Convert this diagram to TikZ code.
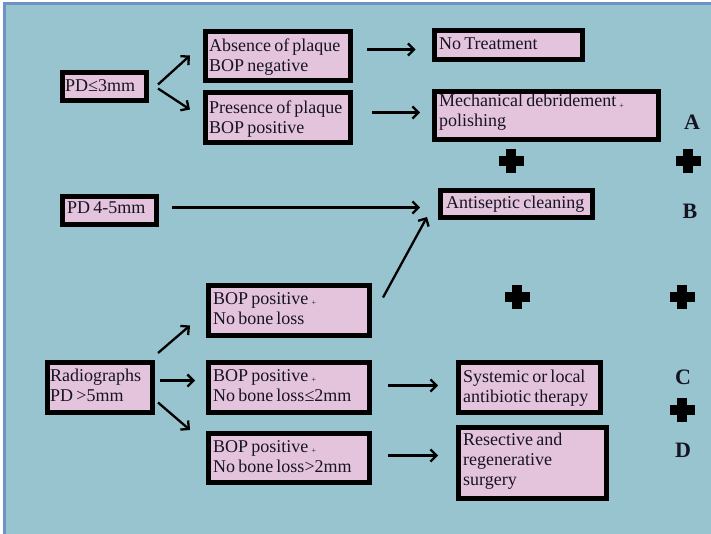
\documentclass[tikz,border=0pt]{standalone}
\usepackage{fontspec}
\setmainfont[WordSpace=0.7]{Liberation Serif}
\usetikzlibrary{arrows.meta}
\definecolor{slidebg}{RGB}{151,196,207}
\definecolor{framebl}{RGB}{108,146,198}
\definecolor{boxpink}{RGB}{228,196,220}
\definecolor{inkc}{RGB}{22,20,34}
\newcommand{\boxtext}[1]{\begin{tabular}[t]{@{}l@{}}#1\end{tabular}}
\newcommand{\smallplus}{\raisebox{-1.5pt}{\fontsize{8}{8}\selectfont +}}
\tikzset{
  box/.style={draw=black, line width=5pt, fill=boxpink, inner sep=0pt, anchor=north west},
  txt/.style={anchor=base west, inner sep=0pt, text=inkc, font=\fontsize{18}{20}\selectfont},
  tag/.style={inner sep=0pt, text=inkc, font=\fontsize{22}{22}\selectfont\bfseries},
  arr/.style={line width=2.3pt, -{Straight Barb[length=6pt,width=12pt,line width=2.3pt]}},
  bigplus/.pic={\fill[black] (-12.5,-5) rectangle (12.5,5); \fill[black] (-5,-12) rectangle (5,12);}
}
\begin{document}
\begin{tikzpicture}[x=1pt,y=-1pt]
\useasboundingbox (0,0) rectangle (711,534);
% slide background with its frame
\fill[white] (0,0) rectangle (711,534);
\fill[slidebg] (3,3) rectangle (711,534);
\draw[framebl, line width=3pt] (4.5,534) -- (4.5,4) -- (711,4);

% boxes
\node[box, minimum width=84pt, minimum height=28pt] (pd3) at (59.5,70.5) {};
\node[box, minimum width=145pt, minimum height=49pt] (absence) at (202.5,29.5) {};
\node[box, minimum width=145pt, minimum height=50pt] (presence) at (202.5,90.5) {};
\node[box, minimum width=148pt, minimum height=29pt] (notreat) at (431.5,28.5) {};
\node[box, minimum width=224pt, minimum height=48pt] (mech) at (431.5,89.5) {};
\node[box, minimum width=94pt, minimum height=28pt] (pd45) at (59.5,194.5) {};
\node[box, minimum width=152pt, minimum height=27pt] (antis) at (437.5,188.5) {};
\node[box, minimum width=161pt, minimum height=50pt] (bop1) at (205.5,282.5) {};
\node[box, minimum width=105pt, minimum height=50pt] (radio) at (44.5,359.5) {};
\node[box, minimum width=161pt, minimum height=50pt] (bop2) at (205.5,359.5) {};
\node[box, minimum width=161pt, minimum height=49pt] (bop3) at (205.5,430.5) {};
\node[box, minimum width=142pt, minimum height=50pt] (syst) at (455.5,359.5) {};
\node[box, minimum width=148pt, minimum height=71pt] (resec) at (455.5,424.5) {};

% box texts
\node[txt] (pd3-t) at (65,92) {\boxtext{PD≤3mm}};
\node[txt] (absence-t) at (209,52) {\boxtext{Absence of plaque\\BOP negative}};
\node[txt] (presence-t) at (209,114) {\boxtext{Presence of plaque\\BOP positive}};
\node[txt] (notreat-t) at (439,50) {\boxtext{No Treatment}};
\node[txt] (mech-t) at (439,107) {\boxtext{Mechanical debridement \smallplus\\polishing}};
\node[txt] (pd45-t) at (67,214) {\boxtext{PD 4-5mm}};
\node[txt] (antis-t) at (446,209) {\boxtext{Antiseptic cleaning}};
\node[txt] (bop1-t) at (213,304) {\boxtext{BOP positive \smallplus\\No bone loss}};
\node[txt] (radio-t) at (50,381) {\boxtext{Radiographs\\PD >5mm}};
\node[txt] (bop2-t) at (213,381) {\boxtext{BOP positive \smallplus\\No bone loss≤2mm}};
\node[txt] (bop3-t) at (213,452) {\boxtext{BOP positive \smallplus\\No bone loss>2mm}};
\node[txt] (syst-t) at (463,382) {\boxtext{Systemic or local\\antibiotic therapy}};
\node[txt] (resec-t) at (463,445) {\boxtext{Resective and\\regenerative\\surgery}};

% connectors
\draw[arr] ([xshift=9.5pt,yshift=2.5pt]pd3.east) -- ([xshift=-12.5pt,yshift=1pt]absence.west);
\draw[arr] ([xshift=9.5pt,yshift=-1.5pt]pd3.east) -- ([xshift=-12.5pt,yshift=8.5pt]presence.west);
\draw[arr] ([xshift=14.5pt,yshift=7pt]absence.east) -- ([xshift=-16pt,yshift=-4pt]notreat.west);
\draw[arr] ([xshift=19.5pt,yshift=5.5pt]presence.east) -- ([xshift=-11.5pt,yshift=3.5pt]mech.west);
\draw[arr] ([xshift=13.5pt,yshift=3.5pt]pd45.east) -- ([xshift=-17.5pt,yshift=-3pt]antis.west);
\draw[arr] ([xshift=11.5pt,yshift=12.5pt]bop1.east) -- ([xshift=-10.5pt,yshift=3.5pt]antis.south west);
\draw[arr] ([xshift=3.5pt,yshift=6.5pt]radio.north east) -- ([xshift=-15.5pt,yshift=-15.5pt]bop1.west);
\draw[arr] ([xshift=5.5pt,yshift=6.5pt]radio.east) -- ([xshift=-10.5pt,yshift=6.5pt]bop2.west);
\draw[arr] ([xshift=3.5pt,yshift=-15.5pt]radio.east) -- ([xshift=-15.5pt,yshift=0.5pt]bop3.north west);
\draw[arr] ([xshift=16.5pt,yshift=1.5pt]bop2.east) -- ([xshift=-17.5pt,yshift=1.5pt]syst.west);
\draw[arr] ([xshift=16.5pt,yshift=2pt]bop3.east) -- ([xshift=-17.5pt,yshift=7pt]resec.west);

% level tags and the crosses joining them
\node[tag] (tagA) at (692,122) {A};
\node[tag] (tagB) at (690,211) {B};
\node[tag] (tagC) at (683,377) {C};
\node[tag] (tagD) at (683,450) {D};
\pic at (511,161) {bigplus};
\pic at (688,161) {bigplus};
\pic at (517,297) {bigplus};
\pic at (682,297) {bigplus};
\pic at (682,410) {bigplus};
\end{tikzpicture}
\end{document}
